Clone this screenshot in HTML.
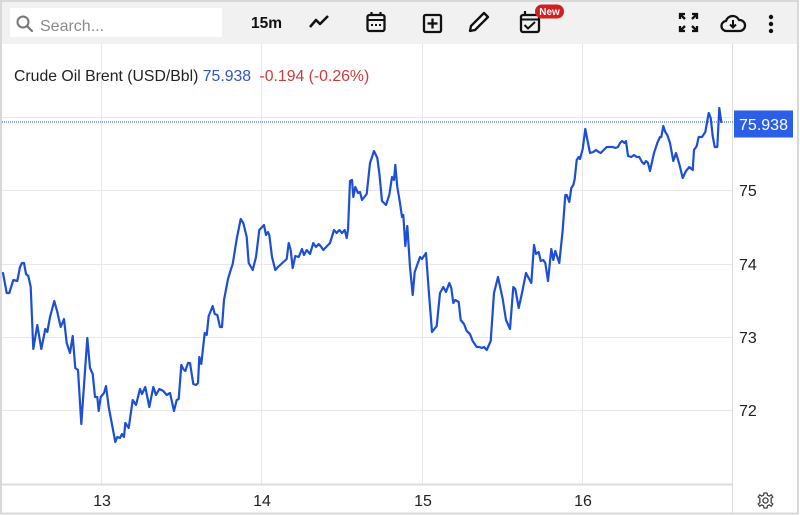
<!DOCTYPE html>
<html><head><meta charset="utf-8">
<style>
html,body{margin:0;padding:0;background:#fff;}
body{width:800px;height:515px;overflow:hidden;position:relative;font-family:"Liberation Sans",Arial,sans-serif;}
</style></head>
<body>
<svg width="800" height="515" viewBox="0 0 800 515" xmlns="http://www.w3.org/2000/svg" style="position:absolute;left:0;top:0">
  <rect x="0" y="0" width="800" height="515" fill="#fff"/>
  <!-- toolbar -->
  <rect x="1" y="1" width="797" height="43" fill="#f1f1f1"/>
  <rect x="10" y="8" width="212" height="29" fill="#fff"/>
  <circle cx="23" cy="22" r="5.5" fill="none" stroke="#777" stroke-width="2"/>
  <line x1="27" y1="26" x2="32" y2="31" stroke="#777" stroke-width="2.2" stroke-linecap="round"/>
  <text x="40" y="31" font-size="16" fill="#8a8a8a" font-family="Liberation Sans, Arial, sans-serif">Search...</text>
  <text x="251" y="28" font-size="15.5" font-weight="bold" fill="#111" font-family="Liberation Sans, Arial, sans-serif">15m</text>
  <polyline points="310,27 316,20 320,24 328,16" fill="none" stroke="#111" stroke-width="2.5" stroke-linejoin="round"/>
  <rect x="367.5" y="15" width="17" height="16" rx="2" fill="none" stroke="#111" stroke-width="2.3"/>
  <line x1="367.5" y1="20" x2="384.5" y2="20" stroke="#111" stroke-width="2"/>
  <line x1="371.5" y1="12" x2="371.5" y2="16" stroke="#111" stroke-width="2.2"/>
  <line x1="380.5" y1="12" x2="380.5" y2="16" stroke="#111" stroke-width="2.2"/>
  <rect x="371" y="24" width="2" height="2" fill="#111"/><rect x="375" y="24" width="2" height="2" fill="#111"/><rect x="379" y="24" width="2" height="2" fill="#111"/>
  <rect x="424" y="15" width="17" height="17" rx="1.5" fill="none" stroke="#111" stroke-width="2.3"/>
  <line x1="432.5" y1="18.5" x2="432.5" y2="28.5" stroke="#111" stroke-width="2.3"/>
  <line x1="427.5" y1="23.5" x2="437.5" y2="23.5" stroke="#111" stroke-width="2.3"/>
  <path d="M470 31 L471 26 L484 13 L488 17 L475 30 Z" fill="#fff" stroke="#111" stroke-width="2.3" stroke-linejoin="round"/>
  <rect x="521" y="15" width="18" height="17" rx="2" fill="none" stroke="#111" stroke-width="2.3"/>
  <line x1="521" y1="19.5" x2="539" y2="19.5" stroke="#111" stroke-width="2"/>
  <line x1="525" y1="11" x2="525" y2="15" stroke="#111" stroke-width="2.2"/>
  <polyline points="524.5,25 528,28.5 535,22" fill="none" stroke="#111" stroke-width="2"/>
  <rect x="535" y="4.5" width="29" height="14" rx="7" fill="#d21f1f"/>
  <text x="549.5" y="15" font-size="10" font-weight="bold" fill="#fff" text-anchor="middle" font-family="Liberation Sans, Arial, sans-serif">New</text>
  <g stroke="#111" stroke-width="2.3" fill="none">
    <path d="M680 19 L680 14 L685 14 M680 14 L685 19"/>
    <path d="M697 19 L697 14 L692 14 M697 14 L692 19"/>
    <path d="M680 26 L680 31 L685 31 M680 31 L685 26"/>
    <path d="M697 26 L697 31 L692 31 M697 31 L692 26"/>
  </g>
  <path d="M727 31 a5 5 0 0 1 -1 -10 a7 7 0 0 1 13 -1 a5.5 5.5 0 0 1 1 11 Z" fill="none" stroke="#111" stroke-width="2.3" stroke-linejoin="round"/>
  <line x1="733" y1="20" x2="733" y2="27" stroke="#111" stroke-width="2"/>
  <polyline points="730,24.5 733,27.5 736,24.5" fill="none" stroke="#111" stroke-width="2"/>
  <circle cx="771" cy="17" r="2.2" fill="#111"/><circle cx="771" cy="24" r="2.2" fill="#111"/><circle cx="771" cy="31" r="2.2" fill="#111"/>

  <!-- grid -->
  <g stroke="#e8e8e8" stroke-width="1">
    <line x1="101.5" y1="44" x2="101.5" y2="484"/>
    <line x1="261.5" y1="44" x2="261.5" y2="484"/>
    <line x1="422.5" y1="44" x2="422.5" y2="484"/>
    <line x1="582.5" y1="44" x2="582.5" y2="484"/>
    <line x1="2" y1="117.5" x2="732" y2="117.5"/>
    <line x1="2" y1="190.5" x2="732" y2="190.5"/>
    <line x1="2" y1="264.5" x2="732" y2="264.5"/>
    <line x1="2" y1="337.5" x2="732" y2="337.5"/>
    <line x1="2" y1="410.5" x2="732" y2="410.5"/>
  </g>
  <line x1="2" y1="484.5" x2="733" y2="484.5" stroke="#dcdcdc" stroke-width="2"/>
  <line x1="732.5" y1="44" x2="732.5" y2="514" stroke="#dcdcdc" stroke-width="1"/>
  <rect x="1" y="1" width="797" height="512.5" fill="none" stroke="#d8d8d8" stroke-width="2"/>

  <!-- legend -->
  <text x="14" y="81" font-size="15.8" fill="#222" font-family="Liberation Sans, Arial, sans-serif">Crude Oil Brent (USD/Bbl) <tspan fill="#2f55c4">75.938</tspan> <tspan fill="#cc3b3b" dx="4">-0.194 (-0.26%)</tspan></text>

  <line x1="2" y1="122" x2="733" y2="122" stroke="#2a55d6" stroke-width="1" stroke-dasharray="1,1"/>

  <polyline fill="none" stroke="#1c4fd6" stroke-width="2.2" stroke-linejoin="round" stroke-linecap="round" points="3,273 6.7,293 9.3,293 13.3,280 17.3,281 20,267 22,263 24,263 26,274 28.3,276 30.7,287 33.3,349 37.3,325 41.3,349 45.3,329 47.3,332 50,317 54.3,301 57.3,312 60.7,327 64,319 66.7,343 70,353 72.7,336 75.3,368 78,370 81.3,424 87.3,338 90,368 92.7,374 95,397 97.3,397 98.7,411 100.7,397 104,393 106,386 108.7,407 115.3,442 117.3,437 120,438 122,434 124,437 125.3,423 128.7,428 132.7,400 136,405 140,389 142,394 145.3,387 149.3,407 153.3,387 156,395 159.3,389 163.3,391 166.7,395 170,393 174,411 176.7,400 178.7,399 181.3,365 183.3,369 185.3,371 188,363 190,363 193.3,384 196,385 198,383 199.3,357 201.3,364 204.7,333 206.7,335 208.7,316 212.7,306 214.7,314 217.3,315 220,327 222,327 224,300 228,279 230.7,270 232.7,264 236.7,239 240.7,219 243.3,223 246.7,237 248.7,263 252.7,270 256,257 259.3,230 264,225 266,235 268,232 269.3,235 272,257 275.3,270 278,267 286.7,259 288.7,243 290.7,250 292.7,268 295.3,256 298.7,257 302,249 304,255 306.7,250 310,254 313.3,243 316,247 318.7,244 321.3,247 323.3,250 330,243 334,230 336.7,233 339.3,230 342,233 344.7,230 346.7,238 348,230 350,181 352,180 353.3,197 355.3,187 358,193 360,192 362,200 366.7,194 370,163 374,151 377.3,158 379.3,173 382,201 386,205 389.3,195 392,177 394,180 395.3,165 397.3,187 400,203 402,217 403.3,215 405.3,246 407.3,226 410,267 412.7,295 414.7,272 420,257 422,259 426,253 428.7,290 432,332 436.7,326 440,293 443.3,287 446,292 449.3,283 451.3,288 453.3,303 455.3,300 458.7,302 460.7,320 464,324 466.7,331 470,334 472.7,341 476.7,347 479.3,347 482,348 484,347 486.7,350 490.7,341 494,293 498,277 502.7,299 506,320 510,329 513.3,287 515.3,289 518.7,308 522,293 526,273 531.3,283 534,245 536,254 538.7,252 540.7,261 543.3,260 545.3,263 548,281 551.3,249 553.3,260 555.3,251 559.3,263 562.7,230 565.3,195 566.7,195 569.3,202 571.3,188 573.3,185 574.7,179 576.7,160 578.7,157 580,159 582.7,149 585.3,129 588,143 590,153 593.3,152 596,150 598.7,152 600.7,153 606.7,147 612.7,147 615.3,148 618,147 620,143 622,141 624.7,143 626,141 628,156 631.3,157 634,155 636.7,157 639.3,157 642,162 644,164 646,161 648,163 650,171 654,153 657.3,143 660,137 661.3,137 663.3,126 665.3,132 667.3,135 670,143 673.3,161 676,153 679.3,164 682.7,178 686,171 689.3,167 692.7,170 694,150 696.7,146 698.7,137 702,137 705.3,132 708.7,113 710.7,118 712.7,136 714.7,147 717.3,147 719.3,108 721.3,122"/>

  <g font-size="16" fill="#222" font-family="Liberation Sans, Arial, sans-serif">
    <text x="739" y="196">75</text>
    <text x="739" y="270">74</text>
    <text x="739" y="343">73</text>
    <text x="739" y="416">72</text>
  </g>
  <rect x="734" y="110.5" width="59" height="27" fill="#2c5fe8"/>
  <text x="763.5" y="130" font-size="16" fill="#fff" text-anchor="middle" font-family="Liberation Sans, Arial, sans-serif">75.938</text>

  <g font-size="16" fill="#222" text-anchor="middle" font-family="Liberation Sans, Arial, sans-serif">
    <text x="102" y="506">13</text>
    <text x="262" y="506">14</text>
    <text x="423" y="506">15</text>
    <text x="583" y="506">16</text>
  </g>
  <g transform="translate(765.5,500.5)" fill="none" stroke="#444" stroke-width="1.3">
    <path d="M-1.5,-7.5 L1.5,-7.5 L2,-5.2 L3.8,-4.4 L5.7,-5.7 L7.3,-3.5 L5.5,-2 L5.8,0 L5.5,2 L7.3,3.5 L5.7,5.7 L3.8,4.4 L2,5.2 L1.5,7.5 L-1.5,7.5 L-2,5.2 L-3.8,4.4 L-5.7,5.7 L-7.3,3.5 L-5.5,2 L-5.8,0 L-5.5,-2 L-7.3,-3.5 L-5.7,-5.7 L-3.8,-4.4 L-2,-5.2 Z"/>
    <circle cx="0" cy="0" r="2.6"/>
  </g>
</svg>
</body></html>
